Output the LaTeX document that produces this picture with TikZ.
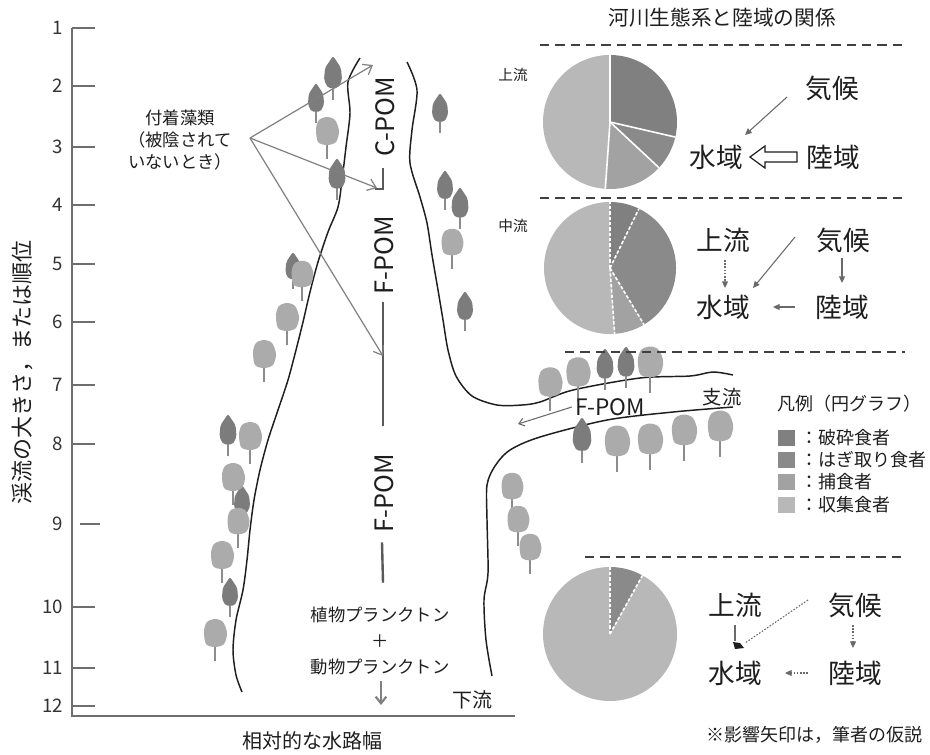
\documentclass[tikz,border=0pt]{standalone}
\usepackage{fontspec}
\setmainfont{Noto Sans CJK JP}
\usetikzlibrary{arrows.meta}

\definecolor{ink}{HTML}{1E1E1E}
\definecolor{axisgray}{HTML}{6E6E6E}
\definecolor{shred}{HTML}{808080}
\definecolor{scrape}{HTML}{8A8A8A}
\definecolor{pred}{HTML}{A2A2A2}
\definecolor{coll}{HTML}{B8B8B8}
\definecolor{leafdark}{HTML}{7C7C7C}
\definecolor{leaflight}{HTML}{ABABAB}
\definecolor{trunkgray}{HTML}{8C8C8C}
\definecolor{linkgray}{HTML}{6A6A6A}
\definecolor{flowgray}{HTML}{5A5A5A}

% one wedge of a pie, angles counter-clockwise in degrees
\newcommand\wedgefill[4]{\fill[#1] (0,0) -- (#2:#4) arc[start angle=#2,end angle=#3,radius=#4] -- cycle;}

\begin{document}
\begin{tikzpicture}[x=0.75pt,y=-0.75pt,
  txt/.style={inner sep=0pt,text=ink},
  axnum/.style={txt,font=\fontsize{14}{16}\selectfont,text=black!80},
  axisline/.style={draw=axisgray,line width=0.8pt},
  bank/.style={draw=ink,line width=1.1pt},
  trunkline/.style={draw=trunkgray,line width=1.3pt},
  secline/.style={draw=ink!85,line width=1.2pt,dash pattern=on 7pt off 4.5pt},
  boxword/.style={txt,font=\fontsize{20}{22}\selectfont},
  smallword/.style={txt,font=\fontsize{11}{13}\selectfont},
  legword/.style={txt,font=\fontsize{13.5}{15}\selectfont,anchor=west},
  pomword/.style={txt,font=\fontsize{19}{21}\selectfont,rotate=90},
  thinarrow/.style={draw=linkgray,line width=0.8pt,-{Triangle[length=5pt,width=4.5pt]}},
  dotarrow/.style={thinarrow,dash pattern=on 1.2pt off 1.2pt},
  algaelink/.style={draw=linkgray!85,line width=0.9pt,-{Straight Barb[length=6pt,width=9pt]}},
  flowline/.style={draw=flowgray,line width=1.8pt},
  pieline/.style={draw=white,line width=1.2pt},
  piedash/.style={draw=white,line width=1.2pt,dash pattern=on 2.5pt off 1.5pt},
  roundtree/.pic={
    \draw[trunkline] (0,4) -- (0,27);
    \fill[leaflight] plot[smooth cycle] coordinates {(-11,-3) (-8,-12) (0,-15) (8,-12) (12,-1) (9,10) (0,13) (-9,10)};
  },
  spiretree/.pic={
    \draw[trunkline] (0,4) -- (0,25);
    \fill[leafdark,rounded corners=1.5pt] (0,-19) -- (8,-7) -- (9,5) -- (5,13) -- (-5,13) -- (-9,5) -- (-8,-7) -- cycle;
  }
]
\fill[white] (0,0) rectangle (930,754);
\useasboundingbox (0,0) rectangle (930,754);

% ---------- axes ----------
\draw[axisline] (72,28) -- (72,716) -- (515,716);
\foreach \n/\yy/\xa/\xb in {1/28/72/95,2/86/72/95,3/147/72/95,4/205/72/95,5/264/72/95,6/322/72/95,
    7/385/72/95,8/444/72/95,9/524/80/100,10/607/72/95,11/668/72/95,12/706/72/95}{
  \draw[axisline] (\xa,\yy) -- (\xb,\yy);
  \node[axnum,anchor=east] (num\n) at (63,\yy) {\n};
}
\node[txt,font=\fontsize{16.5}{18}\selectfont,rotate=90] (ylabel) at (22,372) {渓流の大きさ，または順位};
\node[txt,font=\fontsize{15}{17}\selectfont] (xlabel) at (312,741) {相対的な水路幅};

% ---------- river banks ----------
\draw[bank] plot[smooth] coordinates {(360,58) (348,82) (350,113) (346,147) (342,180) (338,207) (328,232)
  (318,262) (310,292) (303,322) (296,350) (288,380) (278,410) (268,440) (260,470) (254,500) (250,530)
  (247,560) (243,590) (236,620) (233,650) (236,675) (242,692)};
\draw[bank] plot[smooth] coordinates {(407,62) (417,90) (412,130) (410,163) (420,197) (427,223) (432,255)
  (438,290) (443,320) (448,350) (456,376) (472,396) (497,405) (522,405) (540,402) (573,390) (640,378)
  (690,376) (713,372) (733,375)};
\draw[bank] plot[smooth] coordinates {(733,407) (673,412) (607,420) (540,437) (510,450) (495,466) (487,485)
  (487,520) (488,573) (484,600) (486,640) (492,676)};

% ---------- trees ----------
\foreach \x/\y/\s in {333/75/1, 316/100/0.9, 337/176/0.95, 440/110/0.9, 445/187/0.9, 460/205/0.95,
    465/308/0.9, 293/268/0.85, 228/432/0.95, 242/502/0.9, 230/594/0.9, 582/437/1.05, 605/366/0.95, 626/364/0.95}
  \pic[scale=\s] at (\x,\y) {spiretree};
\foreach \x/\y/\s in {327/132/1, 452/243/0.95, 302/275/0.95, 287/318/1, 264/355/1, 250/437/1,
    233/478/1, 238/522/0.95, 222/556/1, 215/634/1, 512/487/0.95, 518/520/0.95, 530/548/0.95,
    550/383/1.05, 578/373/1.05, 650/363/1.1, 617/442/1.1, 650/440/1.1, 684/431/1.1, 720/427/1.1}
  \pic[scale=\s] at (\x,\y) {roundtree};

% ---------- centre channel: particulate matter ----------
\node[pomword] (cpom) at (385,117) {C-POM};
\node[pomword] (fpoma) at (384,255) {F-POM};
\node[pomword] (fpomb) at (384,493) {F-POM};
\coordinate (cpomtop) at (373,65);
\coordinate (cpomfoot) at (377,188);
\coordinate (fpomhit) at (383,356);
\draw[flowline] ([shift={(-10,72)}]cpom.center) -- ++(8,0) -- ++(0,-21);
\draw[flowline] ([shift={(-1,8)}]fpoma.west) -- ([shift={(-1,-28)}]fpomb.east);
\node[txt,font=\fontsize{13}{19.5}\selectfont,align=center] (plank) at (380,641) {植物プランクトン\\＋\\動物プランクトン};
\draw[flowline] ([shift={(-2,10)}]fpomb.west) -- ([shift={(3,-24)}]plank.north);
\coordinate (seaward) at (381,705);
\draw[draw=black!50,line width=1.6pt,-{Straight Barb[length=5pt,width=8pt]}] ([shift={(1,6)}]plank.south) -- (seaward);
\node[txt,font=\fontsize{15}{17}\selectfont] (lower) at (472,700) {下流};

% ---------- attached algae ----------
\node[txt,font=\fontsize{13}{16.5}\selectfont,align=center] (algae) at (180,140) {付着藻類\\（被陰されて\\いないとき）};
\coordinate (algaefork) at (250,138);
\draw[algaelink] (algaefork) -- (cpomtop);
\draw[algaelink] (algaefork) -- (cpomfoot);
\draw[algaelink] (algaefork) -- (fpomhit);

% ---------- tributary ----------
\node[txt,font=\fontsize{17}{19}\selectfont] (tribfpom) at (610,407) {F-POM};
\node[txt,font=\fontsize{14.5}{16}\selectfont] (tribname) at (722,397) {支流};
\coordinate (tribend) at (518,424);
\draw[draw=linkgray,line width=0.8pt,-{Straight Barb[length=4pt,width=6pt]}] ([shift={(-3,0)}]tribfpom.west) -- (tribend);

% ---------- section lines ----------
\node[txt,font=\fontsize{15.5}{17}\selectfont] (title) at (722,18) {河川生態系と陸域の関係};
\draw[secline] (540,45) -- (905,45);
\draw[secline] (540,198) -- (905,198);
\draw[secline] (565,352) -- (905,352);
\draw[secline] (585,557) -- (905,557);

% ---------- pie charts ----------
\begin{scope}[shift={(610,122)},yscale=-1]
  \wedgefill{shred}{-13}{90}{67}
  \wedgefill{scrape}{-43}{-13}{67}
  \wedgefill{pred}{-94}{-43}{67}
  \wedgefill{coll}{90}{266}{67}
  \foreach \a in {90,-13,-43,-94} \draw[pieline] (0,0) -- (\a:67);
\end{scope}
\begin{scope}[shift={(610,268)},yscale=-1]
  \wedgefill{shred}{64}{90}{66}
  \wedgefill{scrape}{-59}{64}{66}
  \wedgefill{pred}{-86}{-59}{66}
  \wedgefill{coll}{90}{274}{66}
  \foreach \a in {90,64,-59,-86} \draw[piedash] (0,0) -- (\a:66);
\end{scope}
\begin{scope}[shift={(610,634)},yscale=-1]
  \wedgefill{scrape}{61}{90}{67}
  \wedgefill{coll}{90}{421}{67}
  \foreach \a in {90,61} \draw[piedash] (0,0) -- (\a:67);
\end{scope}
\node[smallword] (upper) at (513,75) {上流};
\node[smallword] (middle) at (513,226) {中流};

% ---------- upstream relations ----------
\node[boxword] (kiko1) at (832,88) {気候};
\node[boxword] (sui1) at (716,157) {水域};
\node[boxword] (riku1) at (833,157) {陸域};
\draw[thinarrow] ([shift={(-45,9)}]kiko1.center) -- ([shift={(29,-22)}]sui1.center);
\draw[draw=ink,line width=0.9pt,fill=white] ([shift={(7,0)}]sui1.east) -- ++(15,-11) -- ++(0,6) -- ++(32,0)
  -- ++(0,10) -- ++(-32,0) -- ++(0,6) -- cycle;

% ---------- midstream relations ----------
\node[boxword] (ue2) at (723,240) {上流};
\node[boxword] (kiko2) at (843,240) {気候};
\node[boxword] (sui2) at (723,307) {水域};
\node[boxword] (riku2) at (842,307) {陸域};
\draw[dotarrow] ([shift={(2,20)}]ue2.center) -- ([shift={(2,-19)}]sui2.center);
\draw[thinarrow] ([shift={(-48,-3)}]kiko2.center) -- ([shift={(30,-19)}]sui2.center);
\draw[thinarrow] ([shift={(-1,18)}]kiko2.center) -- ([shift={(0,-24)}]riku2.center);
\draw[thinarrow] ([shift={(-47,0)}]riku2.center) -- ([shift={(50,0)}]sui2.center);

% ---------- downstream relations ----------
\node[boxword] (ue3) at (735,605) {上流};
\node[boxword] (kiko3) at (855,605) {気候};
\node[boxword] (sui3) at (735,673) {水域};
\node[boxword] (riku3) at (855,673) {陸域};
\draw[draw=linkgray,line width=0.8pt] ([shift={(0,20)}]ue3.center) -- ([shift={(0,-32)}]sui3.center);
\fill[ink] ([shift={(-2,-31)}]sui3.center) -- ([shift={(5,-30)}]sui3.center) -- ([shift={(9,-25)}]sui3.center)
  -- ([shift={(0,-24)}]sui3.center) -- cycle;
\draw[draw=linkgray,line width=0.8pt,dash pattern=on 1.2pt off 1.2pt] ([shift={(-47,-5)}]kiko3.center) -- ([shift={(10,-30)}]sui3.center);
\draw[dotarrow] ([shift={(-2,20)}]kiko3.center) -- ([shift={(-2,-25)}]riku3.center);
\draw[dotarrow] ([shift={(-47,0)}]riku3.center) -- ([shift={(50,0)}]sui3.center);
\node[txt,font=\fontsize{13.5}{15}\selectfont,anchor=east] (note) at (923,735) {※影響矢印は，筆者の仮説};

% ---------- legend ----------
\node[legword] (legtitle) at (777,404) {凡例（円グラフ）};
\foreach \c/\yy/\t/\k in {shred/438/破砕食者/1,scrape/460/はぎ取り食者/2,pred/482/捕食者/3,coll/505/収集食者/4}{
  \fill[\c] (778,\yy-8) rectangle (795,\yy+8);
  \node[legword] (leg\k) at (800,\yy) {：\t};
}
\end{tikzpicture}
\end{document}
